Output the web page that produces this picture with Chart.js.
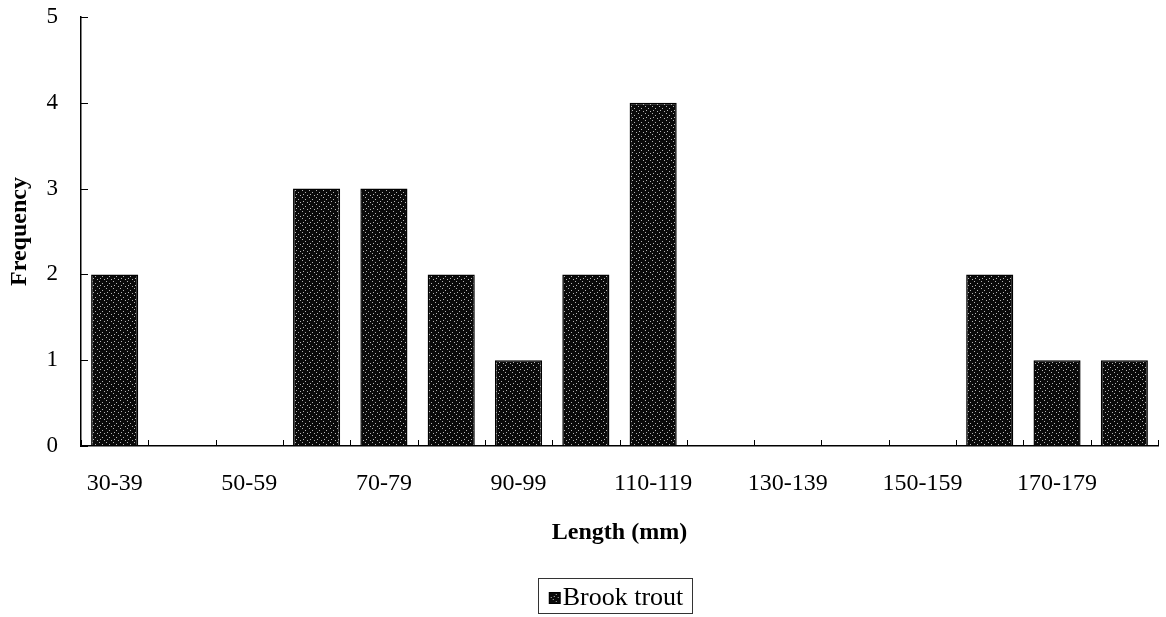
<!DOCTYPE html>
<html>
<head>
<meta charset="utf-8">
<script src="https://cdn.jsdelivr.net/npm/chart.js@4"></script>
<style>
  html, body { margin: 0; padding: 0; background: #ffffff; }
  #wrap { position: relative; width: 1166px; height: 617px; }
</style>
</head>
<body>
<div id="wrap"><canvas id="c" width="1166" height="617"></canvas></div>
<script>
// ---- data ----
const categories = ['30-39','40-49','50-59','60-69','70-79','80-89','90-99','100-109',
                    '110-119','120-129','130-139','140-149','150-159','160-169','170-179','180-189'];
const brookTrout = [2, 0, 0, 3, 3, 2, 1, 2, 4, 0, 0, 0, 0, 2, 1, 1];
const yTickValues = [0, 1, 2, 3, 4, 5];
const seriesName = 'Brook trout';
const xTitle = 'Length (mm)';
const yTitle = 'Frequency';

// ---- stippled dark fill (deterministic tile) ----
function makeTile() {
  const tile = document.createElement('canvas');
  tile.width = 7; tile.height = 7;
  const t = tile.getContext('2d');
  t.fillStyle = '#0a0a0a';
  t.fillRect(0, 0, 7, 7);
  t.fillStyle = '#b5b5b5';
  [[1,1],[4,3],[2,5],[6,6]].forEach(([a,b]) => t.fillRect(a, b, 1, 1));
  return tile;
}
const tile = makeTile();
const fill = document.getElementById('c').getContext('2d').createPattern(tile, 'repeat');

// legend key image: small bordered stippled square, placed right next to the text
function makeKey() {
  const k = document.createElement('canvas');
  k.width = 40; k.height = 14;
  const g = k.getContext('2d');
  g.fillStyle = g.createPattern(tile, 'repeat');
  g.fillRect(25, 1, 12, 12);
  g.strokeStyle = '#000';
  g.lineWidth = 1;
  g.strokeRect(25.5, 1.5, 11, 11);
  return k;
}
const keyIcon = makeKey();

const SERIF = '"Liberation Serif", "Times New Roman", serif';

// inward tick marks + legend position/frame
const extras = {
  id: 'extras',
  afterLayout(chart) {
    const lg = chart.legend;
    if (lg) { lg.left += 29; lg.right += 29; lg.top += 4; lg.bottom += 4; }
  },
  afterDraw(chart) {
    const ctx = chart.ctx;
    const xs = chart.scales.x, ys = chart.scales.y;
    const ca = chart.chartArea;
    ctx.save();
    ctx.strokeStyle = '#000';
    ctx.lineWidth = 1;
    yTickValues.forEach(v => {
      const py = Math.round(ys.getPixelForValue(v)) + 0.5;
      ctx.beginPath(); ctx.moveTo(ca.left, py); ctx.lineTo(ca.left + 7, py); ctx.stroke();
    });
    for (let i = 0; i <= categories.length; i++) {
      const px = Math.round(xs.getPixelForValue(i - 0.5)) + 0.5;
      ctx.beginPath(); ctx.moveTo(px, ca.bottom); ctx.lineTo(px, ca.bottom - 6); ctx.stroke();
    }
    const lg = chart.legend;
    if (lg && lg.legendHitBoxes && lg.legendHitBoxes.length) {
      const hb = lg.legendHitBoxes[0];
      ctx.strokeStyle = '#333';
      ctx.strokeRect(Math.round(hb.left) + 0.5, Math.round(hb.top - 7) + 0.5,
                     Math.round(hb.width + 8), Math.round(hb.height + 9));
    }
    ctx.restore();
  }
};

new Chart(document.getElementById('c'), {
  type: 'bar',
  data: {
    labels: categories,
    datasets: [{
      label: seriesName,
      data: brookTrout,
      backgroundColor: fill,
      borderColor: '#000',
      borderWidth: 1.5,
      barPercentage: 0.7,
      categoryPercentage: 1.0
    }]
  },
  plugins: [extras],
  options: {
    responsive: false,
    animation: false,
    events: [],
    layout: { padding: { left: 5, right: 8, top: 17, bottom: 0 } },
    plugins: {
      tooltip: { enabled: false },
      legend: {
        display: true,
        position: 'bottom',
        labels: {
          color: '#000',
          font: { family: SERIF, size: 26 },
          boxWidth: 12,
          boxHeight: 12,
          usePointStyle: true,
          pointStyle: keyIcon,
          padding: 8
        }
      }
    },
    scales: {
      x: {
        offset: true,
        grid: { display: true, drawOnChartArea: false, drawTicks: false, offset: true },
        border: { display: true, color: '#000', width: 1.5 },
        ticks: {
          autoSkip: false,
          maxRotation: 0,
          minRotation: 0,
          padding: 23,
          color: '#000',
          font: { family: SERIF, size: 24 },
          callback: (v, i) => (i % 2 === 0 ? categories[i] : '')
        },
        title: {
          display: true,
          text: xTitle,
          color: '#000',
          font: { family: SERIF, size: 24, weight: 'bold' },
          padding: { top: 0, bottom: 26 }
        },
        afterFit: s => { s.height = 127; }
      },
      y: {
        min: 0,
        max: 5,
        grid: { display: true, drawOnChartArea: false, drawTicks: true, tickLength: 23, tickColor: 'rgba(0,0,0,0)' },
        border: { display: true, color: '#000', width: 1.5 },
        ticks: {
          stepSize: 1,
          padding: 0,
          color: '#000',
          font: { family: SERIF, size: 23 }
        },
        title: {
          display: true,
          text: yTitle,
          color: '#000',
          font: { family: SERIF, size: 24, weight: 'bold' },
          padding: { top: 0, bottom: 0 }
        },
        afterFit: s => { s.width = 76; }
      }
    }
  }
});
</script>
</body>
</html>
